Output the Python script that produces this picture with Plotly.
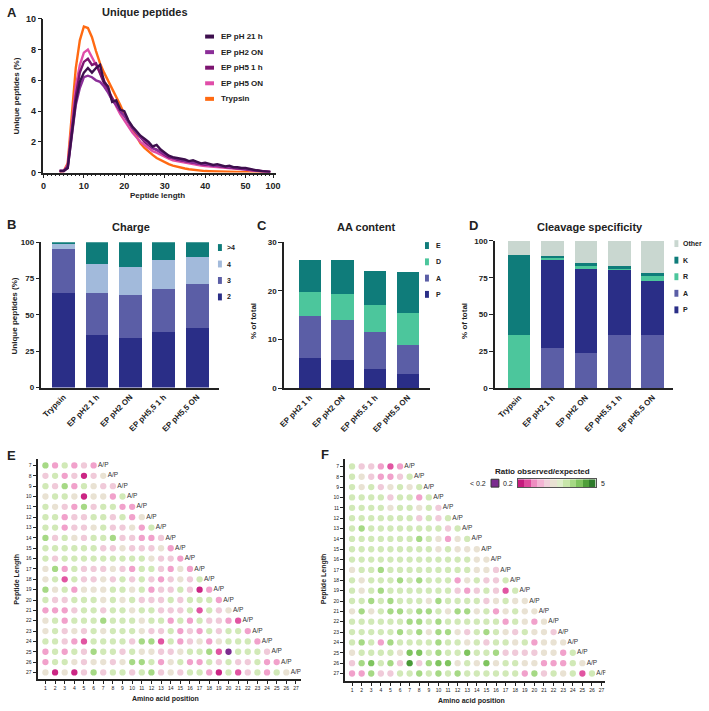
import math
import plotly.graph_objects as go

W, H = 709, 711
FONT = "Liberation Sans, Arial, sans-serif"

def px(x): return x / W
def py(y): return 1 - y / H

# ---------------- Panel A data ----------------
lengths = list(range(4, 51)) + [60, 70, 80, 90, 95]
ep_ph2_1h = [0.1,0.1,0.3,2.5,4.6,5.9,6.5,6.8,6.5,6.8, 7.0,5.9,5.6,4.6,4.7,4.1,4.0,3.4,3.0,2.7,
             2.4,2.2,2.0,1.7,1.8,1.5,1.3,1.1,1.0,0.95, 0.9,0.85,0.75,0.8,0.7,0.6,0.65,0.55,0.5,0.55,
             0.45,0.4,0.45,0.35,0.35,0.3,0.3, 0.2,0.15,0.1,0.08,0.05]
ep_ph2_on = [0.1,0.1,0.3,2.2,4.4,5.5,6.2,6.3,6.2,6.0, 5.9,5.6,5.2,4.7,4.4,4.0,3.7,3.3,2.9,2.6,
             2.3,2.1,1.9,1.6,1.5,1.35,1.2,1.05,0.95,0.9, 0.8,0.75,0.7,0.65,0.6,0.55,0.55,0.5,0.45,0.45,
             0.4,0.38,0.35,0.33,0.3,0.28,0.25, 0.18,0.12,0.08,0.06,0.04]
ep_ph5_1h = [0.1,0.1,0.4,2.8,5.0,6.5,7.2,7.4,7.0,7.1, 6.4,5.8,5.3,4.8,4.4,4.0,3.7,3.3,2.9,2.6,
             2.3,2.0,1.8,1.6,1.5,1.3,1.15,1.0,0.95,0.85, 0.8,0.75,0.7,0.65,0.6,0.55,0.5,0.5,0.45,0.42,
             0.4,0.36,0.33,0.3,0.28,0.26,0.24, 0.17,0.12,0.08,0.05,0.04]
ep_ph5_on = [0.1,0.1,0.5,3.2,5.6,7.0,7.8,8.0,7.5,7.0, 6.5,6.0,5.4,4.8,4.3,3.8,3.4,3.0,2.6,2.3,
             2.0,1.8,1.6,1.4,1.3,1.15,1.0,0.9,0.8,0.75, 0.7,0.62,0.58,0.55,0.5,0.45,0.42,0.4,0.37,0.35,
             0.32,0.3,0.28,0.26,0.24,0.22,0.2, 0.14,0.1,0.07,0.05,0.03]
trypsin = [0.05,0.1,0.6,4.0,6.8,8.6,9.5,9.4,8.8,7.9, 7.1,6.5,6.0,5.5,5.0,4.4,3.8,3.3,2.8,2.3,
           1.9,1.6,1.35,1.15,0.95,0.8,0.65,0.55,0.45,0.38, 0.32,0.27,0.22,0.18,0.15,0.12,0.1,0.09,0.08,0.07,
           0.06,0.05,0.05,0.04,0.04,0.03,0.03, 0.02,0.01,0.01,0.0,0.0]
a_ticks = [0, 10, 20, 30, 40, 50, 100]
a_series = [("EP pH 21 h", ep_ph2_1h, "#3D0F4D"),
            ("EP pH2 ON", ep_ph2_on, "#8B2E98"),
            ("EP pH5 1 h", ep_ph5_1h, "#7C1470"),
            ("EP pH5 ON", ep_ph5_on, "#E04DA8"),
            ("Trypsin", trypsin, "#FF6A12")]

def tx(L):  # broken x axis: 50-100 compressed
    return L if L <= 50 else 50 + (L - 50) * 6.8 / 50

# ---------------- Panel B data ----------------
b_cats = ["Trypsin", "EP pH2 1 h", "EP pH2 ON", "EP pH5,5 1 h", "EP pH5,5 ON"]
b_charge2 = [65, 36, 34, 38, 41]
b_charge3 = [30.5, 29, 29.7, 30, 30]
b_charge4 = [3.5, 20, 19.3, 19.5, 19]
b_charge_gt4 = [1, 15, 17, 12.5, 10]

# ---------------- Panel C data ----------------
c_cats = ["EP pH2 1 h", "EP pH2 ON", "EP pH5.5 1 h", "EP pH5.5 ON"]
c_P = [6.1, 5.7, 4.0, 2.8]
c_A = [8.8, 8.35, 7.5, 6.0]
c_D = [4.85, 5.35, 5.5, 6.7]
c_E = [6.55, 7.0, 7.1, 8.45]

# ---------------- Panel D data ----------------
d_cats = ["Trypsin", "EP pH2 1 h", "EP pH2 ON", "EP pH5.5 1 h", "EP pH5.5 ON"]
d_P = [0, 60.7, 57.6, 44.4, 36.8]
d_A = [0, 27, 24, 35.9, 35.9]
d_R = [35.9, 0.8, 1.1, 1.2, 3.4]
d_K = [54.7, 1.0, 2.1, 1.2, 1.8]
d_O = [9.4, 10.5, 15.2, 17.3, 22.1]

# ---------------- Panels E/F data (codes per peptide length row 7..27) ----------------
rows_len = list(range(7, 28))
e_rows = [
    "G p g p l p",
    "l g p l m l b",
    "g l G p g b l l",
    "b g g b m b b p g",
    "g b l p G l g g p p",
    "g g p l l g g l g p b",
    "g g p l l b g l l b p g",
    "G l g b l g g G l l p p l",
    "g g g g g g l l b l l l b p",
    "g l g g g g g g g g g b l l p",
    "b G p g l l l b l p g g l p b p",
    "b g M g l l b l g l g l p l b l g",
    "G b g p b b b g g b g p l l g l m p",
    "g l l g g g b g b g l l l g l g g g p",
    "p p p l g g l g g b g g l l l g M g l b",
    "b g p g g g G g g g b g g p g p g l l p M",
    "b g l b l g b g g g b l l g p l p g l g g p",
    "g g l p M g g g g l G G M g p l b p b g g g p",
    "p g p g l G g g l g b b l l b g g G M V g g g l",
    "p g g b l b b l b G G g p b g p p g l g l l g p p",
    "b m b m l G l g g l g G l b l g g p m g M l g p g b",
]
f_rows = [
    "g l l p M p",
    "g b l p p l g",
    "g b g l b g b g",
    "g g g g l g g p g",
    "g g g g b g g b g l",
    "g g g g g g g l g l g",
    "g G g g g g g g g g l g",
    "g g g g g g g G g b p b g",
    "g g g g g g g g g b g b b b",
    "g g g g g g g g g g g g g b b",
    "b g g G g g g g g g g g g b b l",
    "g b g g g G g G g g g p b g l l g",
    "g b g G g g g g g g g l p l g l M g",
    "g g G g G g g g b G g g g g l b g b b",
    "b G b g G G g G G g b G G b g p b g b b",
    "g g g g g g G G g G g g g g g g p g b p b",
    "g g g g g G g G b G G b l g G g b l g b b l",
    "g G g p G g g g g G g g b g l g g b g p b b b",
    "b g g g g b D D g G g g D g g G l l l l b b p g",
    "l G D g G l K l G D D b g b D b g g b b p p p g b",
    "p p G l l g g G g G g G g g g g g g p G l g b g M g",
]
# estimated observed/expected ratio for each colour class
code_ratio = {"V": 0.15, "m": 0.22, "M": 0.32, "p": 0.52, "l": 0.75, "b": 1.0,
              "g": 1.45, "G": 2.0, "D": 2.8, "K": 4.0}
# colour scale stops (ratio, colour)
cb_ratios = [0.2, 0.3, 0.45, 0.6, 0.8, 1.0, 1.25, 1.6, 2.0, 2.8, 3.8, 5.0]
cb_colors = ["#C51B7D", "#DE4A9C", "#EE8DC1", "#F3B4D4", "#EFD1DB", "#E9E2D3",
             "#DFEECB", "#C8E6AA", "#A6D985", "#7FC45F", "#4F9F3A", "#2E7B2B"]
violet = "#7B2B8F"

LMIN, LMAX = math.log10(0.1), math.log10(5.0)
def frac(r): return (math.log10(r) - LMIN) / (LMAX - LMIN)
colorscale = [[0.0, violet], [frac(0.2) - 0.002, violet]]
for r, c in zip(cb_ratios, cb_colors):
    colorscale.append([frac(r), c])
colorscale[-1][0] = 1.0

fig = go.Figure()

# ---------------- Panel A traces ----------------
for name, vals, col in reversed(a_series):
    fig.add_trace(go.Scatter(x=[tx(L) for L in lengths], y=vals, mode="lines", name=name,
                             line=dict(color=col, width=2.4), xaxis="x", yaxis="y",
                             showlegend=False))

# ---------------- Panel B/C/D traces ----------------
navy, slate, lblue, teal, mint, other = "#2A2E87", "#5B5EA6", "#A2BADB", "#0F7C7A", "#4CC69C", "#C9D7D0"
for vals, col in [(b_charge2, navy), (b_charge3, slate), (b_charge4, lblue), (b_charge_gt4, teal)]:
    fig.add_trace(go.Bar(x=b_cats, y=vals, marker=dict(color=col, line=dict(width=0)),
                         xaxis="x2", yaxis="y2", showlegend=False))
for vals, col in [(c_P, navy), (c_A, slate), (c_D, mint), (c_E, teal)]:
    fig.add_trace(go.Bar(x=c_cats, y=vals, marker=dict(color=col, line=dict(width=0)),
                         xaxis="x3", yaxis="y3", showlegend=False))
for vals, col in [(d_A, slate), (d_P, navy), (d_R, mint), (d_K, teal), (d_O, other)]:
    fig.add_trace(go.Bar(x=d_cats, y=vals, marker=dict(color=col, line=dict(width=0)),
                         xaxis="x4", yaxis="y4", showlegend=False))

# ---------------- Panels E/F ----------------
def dot_panel(rows, xa, ya):
    xs, ys, cs = [], [], []
    for L, row in zip(rows_len, rows):
        for i, code in enumerate(row.split()):
            xs.append(i + 1); ys.append(L); cs.append(math.log10(code_ratio[code]))
    fig.add_trace(go.Scatter(x=xs, y=ys, mode="markers", xaxis=xa, yaxis=ya, showlegend=False,
                             marker=dict(size=6.3, color=cs, colorscale=colorscale,
                                         cmin=LMIN, cmax=LMAX, line=dict(width=0))))
    fig.add_trace(go.Scatter(x=rows_len, y=rows_len, mode="text", text=["A/P"] * len(rows_len),
                             textposition="middle center", xaxis=xa, yaxis=ya, showlegend=False,
                             textfont=dict(size=6.5, family=FONT, color="#333")))

dot_panel(e_rows, "x5", "y5")
dot_panel(f_rows, "x6", "y6")

# colour bar as heatmap
fig.add_trace(go.Heatmap(z=[[math.log10(r) for r in cb_ratios]], x=list(range(len(cb_ratios))),
                         y=[0], colorscale=colorscale, zmin=LMIN, zmax=LMAX, showscale=False,
                         xaxis="x7", yaxis="y7", hoverinfo="skip"))

# ---------------- Layout ----------------
def tf(size, bold=True):
    return dict(size=size, family=FONT, color="#222", weight="bold" if bold else "normal")

axis_common = dict(showline=True, linecolor="#222", linewidth=1.5, ticks="outside",
                   tickcolor="#222", ticklen=4, tickwidth=1.2, showgrid=False, zeroline=False)

layout = dict(
    width=W, height=H, margin=dict(l=0, r=0, t=0, b=0), paper_bgcolor="white",
    plot_bgcolor="rgba(0,0,0,0)", barmode="stack", bargap=0.32, showlegend=False,
    xaxis=dict(domain=[px(39), px(39 + 57.5 * 4.1)], range=[0, 57.5], anchor="y",
               tickvals=[tx(v) for v in a_ticks], ticktext=[str(v) for v in a_ticks],
               tickfont=tf(9), minor=dict(dtick=1, ticklen=2, ticks="outside", tickcolor="#222"),
               **axis_common),
    yaxis=dict(domain=[py(170), py(14)], range=[0, 10], anchor="x", dtick=2, tickfont=tf(9),
               **axis_common),
    xaxis2=dict(domain=[px(37), px(217)], range=[-0.66, 4.65], anchor="y2", type="category",
                tickangle=-45, tickfont=tf(8), showline=True, linecolor="#222", linewidth=1.5,
                ticks="", showgrid=False),
    yaxis2=dict(domain=[py(388), py(240.7)], range=[0, 100], anchor="x2",
                tickvals=[0, 25, 50, 75, 100], tickfont=tf(8), **axis_common),
    xaxis3=dict(domain=[px(283), px(431)], range=[-0.79, 3.67], anchor="y3", type="category",
                tickangle=-45, tickfont=tf(8), showline=True, linecolor="#222", linewidth=1.5,
                ticks="", showgrid=False),
    yaxis3=dict(domain=[py(388.5), py(240.7)], range=[0, 30], anchor="x3",
                tickvals=[0, 10, 20, 30], tickfont=tf(8), **axis_common),
    xaxis4=dict(domain=[px(497), px(678)], range=[-0.72, 4.62], anchor="y4", type="category",
                tickangle=-45, tickfont=tf(8), showline=True, linecolor="#222", linewidth=1.5,
                ticks="", showgrid=False),
    yaxis4=dict(domain=[py(388.5), py(239.3)], range=[0, 100], anchor="x4",
                tickvals=[0, 25, 50, 75, 100], tickfont=tf(8), **axis_common),
    xaxis5=dict(domain=[px(33), px(300)], range=[0.18, 27.5], anchor="y5",
                tickvals=list(range(1, 28)), tickfont=tf(5, False), showline=True,
                linecolor="#222", linewidth=2, ticks="outside", ticklen=3, tickcolor="#222",
                showgrid=False, zeroline=False),
    yaxis5=dict(domain=[py(684), py(460)], range=[27.67, 6.33], anchor="x5",
                tickvals=rows_len, tickfont=tf(5, False), showline=True, linecolor="#222",
                linewidth=2, ticks="outside", ticklen=3, tickcolor="#222", showgrid=False,
                zeroline=False),
    xaxis6=dict(domain=[px(345), px(609)], range=[0.28, 27.4], anchor="y6",
                tickvals=list(range(1, 28)), tickfont=tf(5, False), showline=True,
                linecolor="#222", linewidth=2, ticks="outside", ticklen=3, tickcolor="#222",
                showgrid=False, zeroline=False),
    yaxis6=dict(domain=[py(686), py(460)], range=[27.76, 6.24], anchor="x6",
                tickvals=rows_len, tickfont=tf(5, False), showline=True, linecolor="#222",
                linewidth=2, ticks="outside", ticklen=3, tickcolor="#222", showgrid=False,
                zeroline=False),
    xaxis7=dict(domain=[px(520), px(599)], range=[-0.5, 11.5], anchor="y7", showticklabels=False,
                showline=True, mirror=True, linecolor="#555", linewidth=1, ticks="",
                showgrid=False, zeroline=False),
    yaxis7=dict(domain=[py(489), py(481)], range=[-0.5, 0.5], anchor="x7", showticklabels=False,
                showline=True, mirror=True, linecolor="#555", linewidth=1, ticks="",
                showgrid=False, zeroline=False),
)

anns = []
shapes = []
def ann(x, y, text, size, bold=True, angle=0, xanchor="center", yanchor="middle"):
    anns.append(dict(x=px(x), y=py(y), xref="paper", yref="paper", text=text, showarrow=False,
                     font=tf(size, bold), textangle=angle, xanchor=xanchor, yanchor=yanchor))

# panel letters
for lt, x, y in [("A", 7, 8), ("B", 7, 223), ("C", 261, 224), ("D", 475, 224), ("E", 7, 457), ("F", 325, 456)]:
    ann(x, y, lt, 13)
# titles
ann(142, 7, "Unique peptides", 11)
ann(128, 225, "Charge", 11)
ann(367, 225, "AA content", 11)
ann(593, 225, "Cleavage specificity", 11)
# axis titles
ann(12, 92, "Unique peptides (%)", 8, angle=-90)
ann(155, 193, "Peptide length", 8)
ann(10, 315, "Unique peptides (%)", 8, angle=-90)
ann(252, 320, "% of total", 8, angle=-90)
ann(466, 320, "% of total", 8, angle=-90)
ann(12, 582, "Peptide Length", 7, angle=-90)
ann(163, 704, "Amino acid position", 7)
ann(323, 582, "Peptide Length", 7, angle=-90)
ann(473, 706, "Amino acid position", 7)

# legend A
for i, (name, vals, col) in enumerate(a_series):
    y = 32 + i * 15.8
    shapes.append(dict(type="line", xref="paper", yref="paper", x0=px(203), x1=px(212),
                       y0=py(y), y1=py(y), line=dict(color=col, width=4)))
    ann(217, y, name, 8, xanchor="left")

def sq_legend(items, xs, xt, y0, dy, size=7):
    for i, (name, col) in enumerate(items):
        y = y0 + i * dy
        shapes.append(dict(type="rect", xref="paper", yref="paper", x0=px(xs), x1=px(xs + 4),
                           y0=py(y + 3.5), y1=py(y - 3.5), fillcolor=col, line=dict(width=0)))
        ann(xt, y, name, size, xanchor="left")

sq_legend([(">4", teal), ("4", lblue), ("3", slate), ("2", navy)], 216, 223, 246, 16.7)
sq_legend([("E", teal), ("D", mint), ("A", slate), ("P", navy)], 426, 435, 244, 16.5)
sq_legend([("Other", other), ("K", teal), ("R", mint), ("A", slate), ("P", navy)], 679, 686, 242, 16.8)

# colour bar labels
ann(545, 473, "Ratio observed/expected", 8)
ann(490, 485, "< 0.2", 7, bold=False, xanchor="right")
shapes.append(dict(type="rect", xref="paper", yref="paper", x0=px(493), x1=px(501),
                   y0=py(489), y1=py(481), fillcolor=violet, line=dict(color="#333", width=1)))
ann(517, 485, "0.2", 7, bold=False, xanchor="right")
ann(602, 485, "5", 7, bold=False, xanchor="left")

layout["annotations"] = anns
layout["shapes"] = shapes
fig.update_layout(**layout)
fig.write_html("out.html", config={"displayModeBar": False},
               post_script="document.body.style.margin='0';document.body.style.padding='0';")
